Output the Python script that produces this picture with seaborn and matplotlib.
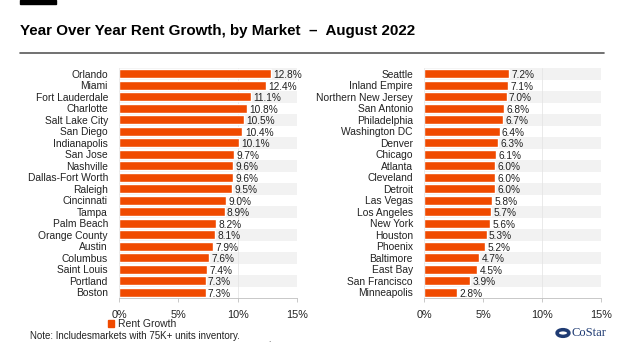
import matplotlib
matplotlib.use('Agg')
import matplotlib.pyplot as plt
import matplotlib.patches as mpatches
import seaborn as sns
import pandas as pd

# data
left_markets = ['Orlando', 'Miami', 'Fort Lauderdale', 'Charlotte', 'Salt Lake City', 'San Diego',
                'Indianapolis', 'San Jose', 'Nashville', 'Dallas-Fort Worth', 'Raleigh', 'Cincinnati',
                'Tampa', 'Palm Beach', 'Orange County', 'Austin', 'Columbus', 'Saint Louis',
                'Portland', 'Boston']
left_growth = [12.8, 12.4, 11.1, 10.8, 10.5, 10.4, 10.1, 9.7, 9.6, 9.6, 9.5, 9.0,
               8.9, 8.2, 8.1, 7.9, 7.6, 7.4, 7.3, 7.3]
right_markets = ['Seattle', 'Inland Empire', 'Northern New Jersey', 'San Antonio', 'Philadelphia',
                 'Washington DC', 'Denver', 'Chicago', 'Atlanta', 'Cleveland', 'Detroit',
                 'Las Vegas', 'Los Angeles', 'New York', 'Houston', 'Phoenix', 'Baltimore',
                 'East Bay', 'San Francisco', 'Minneapolis']
right_growth = [7.2, 7.1, 7.0, 6.8, 6.7, 6.4, 6.3, 6.1, 6.0, 6.0, 6.0, 5.8, 5.7, 5.6,
                5.3, 5.2, 4.7, 4.5, 3.9, 2.8]
x_ticks = [0, 5, 10, 15]
x_ticklabels = ['0%', '5%', '10%', '15%']

sns.set_theme(style='white')
plt.rcParams['font.family'] = ['Liberation Sans', 'DejaVu Sans']

BAR = '#F04A00'
fig = plt.figure(figsize=(6.24, 3.51), dpi=100)


def draw(ax, markets, growth):
    df = pd.DataFrame({'market': markets, 'growth': growth})
    for i in range(len(markets)):
        if i % 2 == 0:
            ax.axhspan(i - 0.5, i + 0.5, xmin=0, xmax=1, color='#F2F2F2', lw=0, zorder=0)
    ax.axvline(10, color='#E6E6E6', lw=0.6, zorder=0.5)
    sns.barplot(data=df, x='growth', y='market', orient='h', color=BAR, width=0.8,
                saturation=1, ax=ax, zorder=2)
    for i, v in enumerate(growth):
        ax.text(v + 0.2, i + 0.12, f'{v:.1f}%', va='center', ha='left', fontsize=7.3,
                color='#222222', zorder=3)
    ax.set_xlim(0, 15)
    ax.set_ylim(len(markets) - 0.5, -0.5)
    ax.set_xticks(x_ticks)
    ax.set_xticklabels(x_ticklabels, fontsize=7.8, color='#222222')
    ax.tick_params(axis='y', labelsize=7.4, colors='#222222', length=0, pad=8)
    ax.tick_params(axis='x', length=3, width=0.6, color='#BFBFBF', pad=6, bottom=True)
    ax.set_xlabel('')
    ax.set_ylabel('')
    for s in ['top', 'right']:
        ax.spines[s].set_visible(False)
    ax.spines['bottom'].set_color('#BFBFBF')
    ax.spines['bottom'].set_linewidth(0.6)
    ax.spines['left'].set_color('#E6E6E6')
    ax.spines['left'].set_linewidth(0.5)


ax1 = fig.add_axes([0.1907, 0.151, 0.2853, 0.655])
draw(ax1, left_markets, left_growth)
ax2 = fig.add_axes([0.6795, 0.151, 0.2837, 0.655])
draw(ax2, right_markets, right_growth)

# header
fig.patches.append(mpatches.Rectangle((20 / 624, 1 - 4 / 351), 36 / 624, 4 / 351,
                                      transform=fig.transFigure, color='black'))
fig.text(20 / 624, 1 - 31 / 351, 'Year Over Year Rent Growth, by Market  \u2013  August 2022',
         fontsize=10.9, fontweight='bold', va='center', ha='left', color='black')
fig.lines.append(plt.Line2D([20 / 624, 604 / 624], [1 - 53 / 351, 1 - 53 / 351],
                            transform=fig.transFigure, color='#595959', lw=1.2))

# legend and note
fig.legend(handles=[mpatches.Patch(color=BAR, label='Rent Growth')], loc='center left',
           bbox_to_anchor=(103 / 624, 1 - 324 / 351), frameon=False, fontsize=7.5,
           handlelength=0.6, handleheight=0.6, handletextpad=0.3, borderpad=0)
fig.text(30 / 624, 1 - 336 / 351, 'Note: Includesmarkets with 75K+ units inventory.',
         fontsize=7, va='center', ha='left', color='#222222')
fig.text(268 / 624, 1 - 340 / 351, '.', fontsize=6, va='center', ha='left', color='#444444')

# logo
fig.patches.append(mpatches.Circle((563 / 624, 1 - 333 / 351), 0.0095, transform=fig.transFigure,
                                   fill=False, ec='#1F3B73', lw=2.5))
fig.text(571 / 624, 1 - 333 / 351, 'CoStar', family='Liberation Serif', fontsize=9,
         va='center', ha='left', color='#1F3B73')

fig.savefig('out.png', dpi=100)
